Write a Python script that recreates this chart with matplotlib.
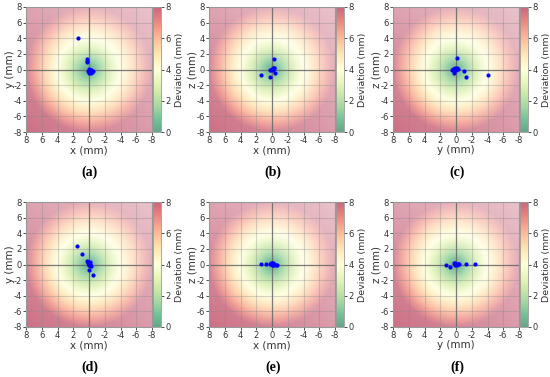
import numpy as np
import matplotlib
matplotlib.use("Agg")
import matplotlib.pyplot as plt
from matplotlib.colors import ListedColormap, Normalize
from matplotlib.cm import ScalarMappable

plt.rcParams["axes.unicode_minus"] = False

# scatter data per panel: (horizontal, vertical) in mm
ha = [1.4, 0.2, 0.2, 0.2, 0.0, -0.1, -0.3, -0.4, -0.2, 0.0, -0.5, -0.3, 0.1, -0.2]
va = [4.0, 1.3, 1.1, 0.9, 0.1, 0.0, -0.1, -0.3, -0.3, -0.4, -0.2, 0.0, -0.2, -0.5]
hb = [-0.3, 1.4, 0.2, -0.4, 0.1, 0.0, -0.1, -0.2, -0.3, 0.2, -0.1]
vb = [1.4, -0.7, -1.0, -0.5, 0.0, 0.1, 0.2, 0.2, 0.2, -0.1, -0.1]
hc = [-0.1, -4.0, -1.3, -1.0, 0.2, 0.5, 0.3, 0.1, -0.1, -0.2, 0.4, 0.0]
vc = [1.5, -0.65, -1.0, -0.2, -0.5, 0.0, 0.1, 0.2, 0.2, 0.1, 0.1, 0.0]
hd = [1.55, 0.9, 0.28, 0.15, 0.05, -0.05, -0.1, -0.2, -0.05, -0.45, 0.1, -0.1]
vd = [2.35, 1.37, 0.43, 0.2, 0.0, -0.1, 0.3, -0.2, -0.75, -1.3, 0.35, 0.1]
he = [1.45, 0.8, 0.2, 0.1, 0.0, -0.1, -0.2, -0.3, -0.5, -0.6, 0.05, -0.15]
ve = [0.1, 0.04, 0.1, 0.2, 0.15, 0.0, -0.1, 0.1, 0.0, 0.0, -0.1, 0.2]
hf = [1.3, 0.7, 0.2, 0.1, 0.0, -0.1, -0.2, -0.4, -1.3, -2.35, 0.15, -0.3]
vf = [0.0, -0.26, 0.13, 0.15, 0.1, 0.0, 0.1, 0.1, 0.04, 0.09, -0.05, 0.05]

panels = [
    ("(a)", "x (mm)", "y (mm)", ha, va),
    ("(b)", "x (mm)", "z (mm)", hb, vb),
    ("(c)", "y (mm)", "z (mm)", hc, vc),
    ("(d)", "x (mm)", "y (mm)", hd, vd),
    ("(e)", "x (mm)", "z (mm)", he, ve),
    ("(f)", "y (mm)", "z (mm)", hf, vf),
]

lim = 8
dev_max = 8
ticks = [8, 6, 4, 2, 0, -2, -4, -6, -8]

base = plt.get_cmap("RdYlGn_r")
norm = Normalize(0, dev_max)


def blend(rgb, a):
    return 1 - a[..., None] * (1 - rgb)


# colorbar colours: colormap washed over white
cb_vals = base(np.linspace(0, 1, 256))[:, :3]
cb_cmap = ListedColormap(blend(cb_vals, np.full(256, 0.6)))

# deviation field as background
n = 200
g = np.linspace(lim, -lim, n)
gx, gy = np.meshgrid(g, -g)
dev = np.sqrt(gx ** 2 + gy ** 2)
rgb = base(norm(np.clip(dev, 0, dev_max)))[..., :3]
u, v = np.meshgrid(np.linspace(0, 1, n), np.linspace(0, 1, n))
alpha = 0.56 - 0.17 * u - 0.2 * v + 0.05 * u * v
alpha = alpha + 0.18 * np.clip(1 - dev / 4, 0, 1)
bg = blend(rgb, alpha)

fig = plt.figure(figsize=(5.5, 3.77), dpi=100)
lefts = [26, 209, 393]
tops = [7, 202]
W, H = 550.0, 377.0
aw, ah = 126, 125
txt = "#333333"

for k, (cap, xl, yl, hs, vs) in enumerate(panels):
    r, c = divmod(k, 3)
    x0, y0 = lefts[c], tops[r]
    ax = fig.add_axes([x0 / W, 1 - (y0 + ah) / H, aw / W, ah / H])
    cax = fig.add_axes([(x0 + aw + 1) / W, 1 - (y0 + ah) / H, 8 / W, ah / H])

    ax.imshow(bg, extent=(lim, -lim, -lim, lim), origin="lower",
              interpolation="bilinear", aspect="auto", zorder=0)
    ax.set_xlim(lim, -lim)
    ax.set_ylim(-lim, lim)
    ax.set_xticks(ticks)
    ax.set_yticks(ticks)
    ax.grid(True, color="#888888", alpha=0.35, lw=0.8)
    ax.axhline(0, color="#666666", lw=0.9, alpha=0.8)
    ax.axvline(0, color="#666666", lw=0.9, alpha=0.8)
    ax.plot(hs, vs, "o", color="#0000ff", ms=3, mew=0, zorder=5)
    for s in ax.spines.values():
        s.set_color("#999999")
        s.set_linewidth(0.8)
    ax.tick_params(labelsize=6, colors=txt, length=2, width=0.6, pad=1)
    ax.set_xlabel(xl, fontsize=7.5, color=txt, labelpad=0)
    ax.set_ylabel(yl, fontsize=7.5, color=txt, labelpad=-1)

    cb = fig.colorbar(ScalarMappable(norm=norm, cmap=cb_cmap), cax=cax)
    cb.set_ticks([0, 2, 4, 6, 8])
    cb.outline.set_edgecolor("#999999")
    cb.outline.set_linewidth(0.6)
    cax.tick_params(labelsize=6, colors=txt, length=2, width=0.6, pad=1)
    cb.set_label("Deviation (mm)", fontsize=6.8, color=txt, labelpad=3)

    fig.text((x0 + aw / 2 + 1) / W, 1 - (y0 + 165) / H, cap, ha="center",
             va="center", fontsize=10, family="Liberation Serif",
             fontweight="bold", color="black")

fig.savefig("out.png", dpi=100)
